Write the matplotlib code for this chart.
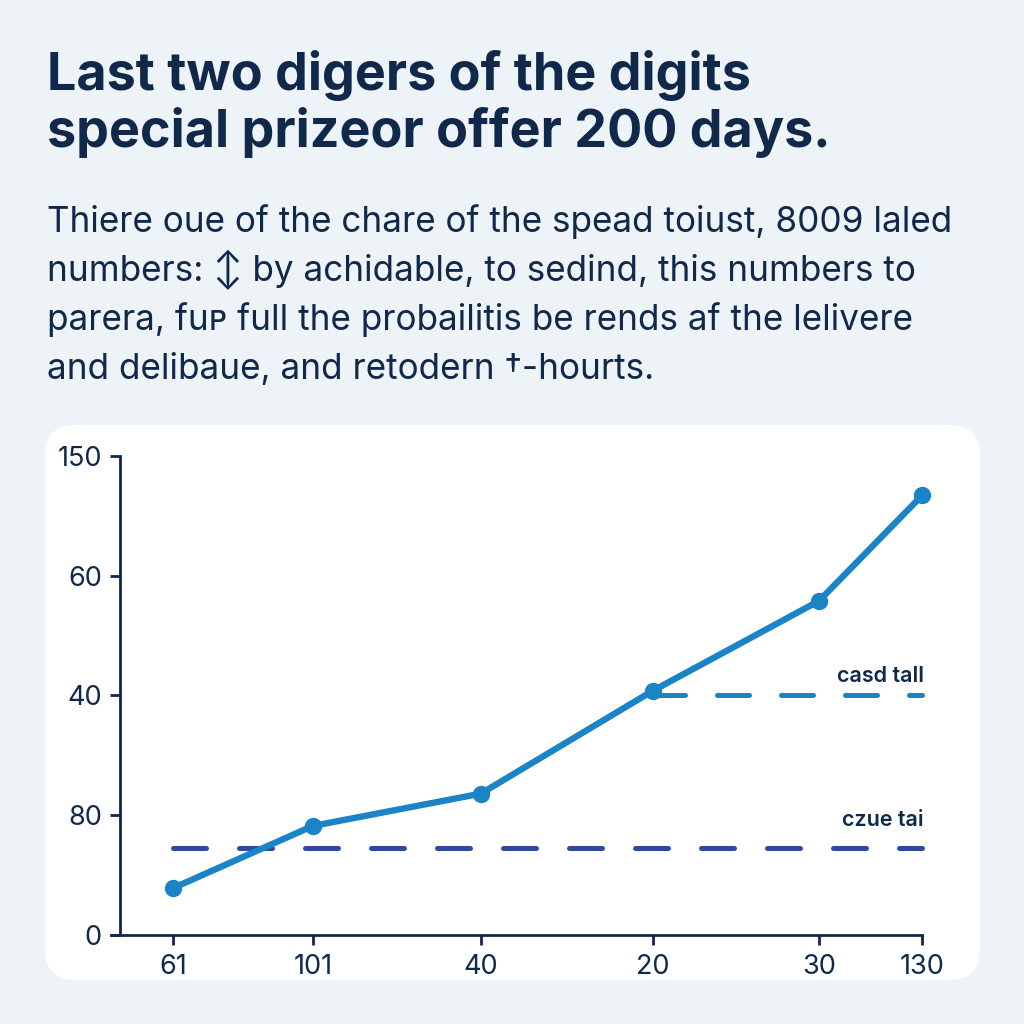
import matplotlib
matplotlib.use("Agg")
import matplotlib.pyplot as plt
from matplotlib.patches import FancyBboxPatch

# ---- data ----
title_lines = ["Last two digers of the digits", "special prizeor offer 200 days."]
subtitle_lines = [
    "Thiere oue of the chare of the spead toiust, 8009 laled",
    "numbers: \u2195 by achidable, to sedind, this numbers to",
    "parera, fu\u1d29 full the probailitis be rends af the lelivere",
    "and delibaue, and retodern \u2020-hourts.",
]
x_tick_labels = ["61", "101", "40", "20", "30", "130"]
x_values = [0.0, 0.843, 1.855, 2.892, 3.892, 4.512]
y_tick_labels = ["0", "80", "40", "60", "150"]
y_tick_values = [0, 1, 2, 3, 4]
series_values = [0.39, 0.91, 1.18, 2.04, 2.79, 3.67]
upper_ref_value = 2.0
upper_ref_start = 2.892
upper_ref_label = "casd tall"
lower_ref_value = 0.73
lower_ref_label = "czue tai"

BG = "#eef3f8"
NAVY = "#10284a"
LINE = "#1a84c6"
DARKDASH = "#2d4a9c"
FAM = ['Inter', 'DejaVu Sans']

plt.rcParams['font.family'] = FAM

fig = plt.figure(figsize=(10.24, 10.24), dpi=100, facecolor=BG)
renderer = fig.canvas.get_renderer()

panel = FancyBboxPatch((0.044, 0.043), 0.913, 0.542,
                       boxstyle="round,pad=0,rounding_size=0.03",
                       transform=fig.transFigure, facecolor="white",
                       edgecolor="none", zorder=-5)
fig.add_artist(panel)


def fit_text(x, y_px, s, target_w, base_size, **kw):
    t = fig.text(x, 1 - y_px / 1024, s, fontsize=base_size, va="baseline",
                 ha="left", color=NAVY, **kw)
    w = t.get_window_extent(renderer).width
    return t, base_size * target_w / w


# title
t, fs = fit_text(0.046, 90, title_lines[0], 704, 30, fontweight="bold")
t.set_fontsize(fs)
t2 = fig.text(0.046, 1 - 147 / 1024, title_lines[1], fontsize=fs,
              fontweight="bold", color=NAVY, va="baseline", ha="left")

sub_base = [232, 281, 330, 379]
s0, sfs = fit_text(0.046, sub_base[0], subtitle_lines[0], 904, 20)
s0.set_fontsize(sfs)
for line, yy in zip(subtitle_lines[1:], sub_base[1:]):
    fig.text(0.046, 1 - yy / 1024, line, fontsize=sfs, color=NAVY,
             va="baseline", ha="left")

ax = fig.add_axes([0.117, 0.087, 0.7834, 0.4677])
ax.set_facecolor("none")
ax.set_xlim(-0.319, 4.512)
ax.set_ylim(0, 4)

# reference dashed lines
l1, = ax.plot([upper_ref_start, x_values[-1]], [upper_ref_value] * 2,
              color=LINE, lw=3.6, dash_capstyle="round",
              clip_on=False, zorder=2)
l1.set_dashes((6.4, 6.4))
l2, = ax.plot([x_values[0], x_values[-1]], [lower_ref_value] * 2,
              color=DARKDASH, lw=3.6, dash_capstyle="round",
              clip_on=False, zorder=2)
l2.set_dashes((6.6, 6.6))

ax.text(x_values[-1] + 0.01, upper_ref_value + 0.11, upper_ref_label,
        ha="right", va="baseline", fontsize=15.5, fontweight="semibold",
        color=NAVY)
ax.text(x_values[-1] + 0.01, lower_ref_value + 0.18, lower_ref_label,
        ha="right", va="baseline", fontsize=15.5, fontweight="semibold",
        color=NAVY)

# main series
ax.plot(x_values, series_values, color=LINE, lw=4.6, marker="o",
        markersize=11.5, clip_on=False, zorder=3, solid_capstyle="round",
        solid_joinstyle="round")

ax.set_xticks(x_values)
ax.set_xticklabels(x_tick_labels)
ax.set_yticks(y_tick_values)
ax.set_yticklabels(y_tick_labels)

for s in ["top", "right"]:
    ax.spines[s].set_visible(False)
for s in ["left", "bottom"]:
    ax.spines[s].set_color(NAVY)
    ax.spines[s].set_linewidth(2)
ax.spines["bottom"].set_bounds(-0.37, x_values[-1])
ax.tick_params(axis="both", colors=NAVY, width=2, length=7,
               labelsize=19.5, pad=7)
ax.tick_params(axis="y", pad=6)

fig.savefig("out.png", dpi=100, facecolor=BG)
